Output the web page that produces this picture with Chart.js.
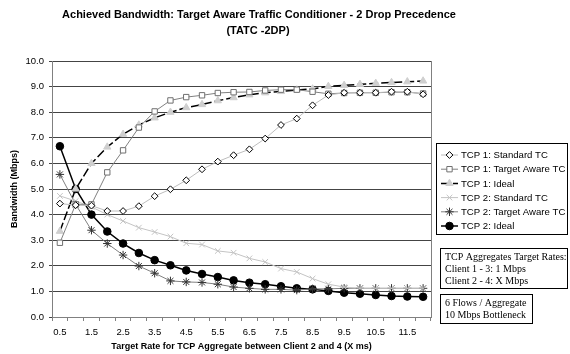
<!DOCTYPE html>
<html>
<head>
<meta charset="utf-8">
<script src="https://cdn.jsdelivr.net/npm/chart.js@4.4.1/dist/chart.umd.min.js"></script>
<style>
  html, body { margin: 0; padding: 0; background: #fff; }
  #wrap { width: 570px; height: 354px; position: relative; }
</style>
</head>
<body>
<div id="wrap"><canvas id="bwChart" width="570" height="354"></canvas></div>
<script>
// --- data ---
const categories = ["0.5","1.0","1.5","2.0","2.5","3.0","3.5","4.0","4.5","5.0","5.5","6.0",
                    "6.5","7.0","7.5","8.0","8.5","9.0","9.5","10.0","10.5","11.0","11.5","12.0"];

const tcp1Standard = [4.43,4.37,4.35,4.14,4.14,4.33,4.72,4.99,5.34,5.77,6.07,6.32,
                      6.55,6.97,7.5,7.75,8.27,8.67,8.76,8.76,8.76,8.8,8.8,8.7];
const tcp1Aware    = [2.9,4.4,4.4,5.65,6.51,7.4,8.03,8.46,8.59,8.66,8.75,8.78,
                      8.79,8.85,8.88,8.88,8.8,8.72,8.75,8.76,8.76,8.78,8.78,8.73];
const tcp1Ideal    = [3.35,5.0,6.0,6.64,7.14,7.5,7.78,8.0,8.18,8.3,8.45,8.57,
                      8.68,8.76,8.81,8.87,8.91,9.01,9.05,9.09,9.13,9.16,9.19,9.22];
const tcp2Standard = [4.73,4.53,4.3,4.0,3.75,3.49,3.32,3.14,2.88,2.83,2.58,2.51,
                      2.29,2.15,1.89,1.76,1.5,1.28,1.17,1.12,1.12,1.12,1.12,1.12];
const tcp2Aware    = [5.57,4.4,3.39,2.87,2.42,1.99,1.71,1.41,1.37,1.35,1.28,1.17,
                      1.12,1.08,1.08,1.05,1.1,1.1,1.12,1.12,1.12,1.12,1.12,1.12];
const tcp2Ideal    = [6.67,5.0,4.0,3.34,2.87,2.5,2.22,2.02,1.82,1.68,1.56,1.43,
                      1.34,1.28,1.2,1.12,1.08,1.02,0.95,0.91,0.86,0.82,0.8,0.79];

const yMin = 0, yMax = 10, yStep = 1;

const titleLines = ["Achieved Bandwidth: Target Aware Traffic Conditioner - 2 Drop Precedence", "(TATC -2DP)"];
const noteLines1 = ["TCP Aggregates Target Rates:", "Client 1 - 3: 1 Mbps", "Client 2 - 4: X Mbps"];
const noteLines2 = ["6 Flows / Aggregate", "10 Mbps Bottleneck"];

const SANS = "'Liberation Sans', Arial, sans-serif";
const SERIF = "'Liberation Serif', 'Times New Roman', serif";

/**
 * Title, legend and note boxes drawn on the canvas
 */
const decorPlugin = {
    id: "decor",
    afterDraw(chart) {
        const ctx = chart.ctx;
        const area = chart.chartArea;
        ctx.save();

        // right border of the plot
        ctx.strokeStyle = "#808080";
        ctx.lineWidth = 1;
        ctx.beginPath();
        ctx.moveTo(Math.round(area.right) + 0.5, area.top);
        ctx.lineTo(Math.round(area.right) + 0.5, area.bottom);
        ctx.stroke();

        // title
        ctx.fillStyle = "#000";
        ctx.font = `bold 11px ${SANS}`;
        ctx.textAlign = "center";
        ctx.textBaseline = "middle";
        ctx.fillText(titleLines[0], 259, 15);
        ctx.fillText(titleLines[1], 258, 31);

        // legend
        const lx = 436.5, ly = 143.5, lw = 131, lh = 91;
        ctx.strokeStyle = "#000";
        ctx.strokeRect(lx, ly, lw, lh);
        ctx.font = `9.6px ${SANS}`;
        ctx.textAlign = "left";
        chart.data.datasets.forEach((ds, i) => {
            const y = 155 + i * 14.2;
            ctx.save();
            ctx.strokeStyle = ds.borderColor;
            ctx.lineWidth = ds.borderWidth;
            ctx.setLineDash(ds.borderDash || []);
            ctx.beginPath();
            ctx.moveTo(441, y);
            ctx.lineTo(458, y);
            ctx.stroke();
            ctx.setLineDash([]);
            ctx.fillStyle = ds.pointBackgroundColor;
            ctx.strokeStyle = ds.pointBorderColor;
            ctx.lineWidth = ds.pointBorderWidth;
            Chart.helpers.drawPoint(ctx, {
                pointStyle: ds.pointStyle,
                radius: ds.pointRadius,
                borderWidth: ds.pointBorderWidth,
                rotation: 0
            }, 449.5, y);
            ctx.restore();
            ctx.fillStyle = "#000";
            ctx.fillText(ds.label, 461, y + 0.5);
        });

        // note boxes
        ctx.strokeStyle = "#000";
        ctx.strokeRect(440.5, 248.5, 127, 40);
        ctx.strokeRect(440.5, 294.5, 92, 29);
        ctx.font = `10px ${SERIF}`;
        noteLines1.forEach((t, i) => ctx.fillText(t, 445, 257 + i * 12));
        noteLines2.forEach((t, i) => ctx.fillText(t, 445, 303 + i * 12.5));

        ctx.restore();
    }
};

function makeSet(label, data, o) {
    return Object.assign({
        label,
        data,
        fill: false,
        tension: 0,
        borderWidth: 1,
        pointBorderWidth: 1,
        pointHoverRadius: 4
    }, o);
}

const datasets = [
    makeSet("TCP 1: Standard TC", tcp1Standard, {
        borderColor: "#bdbdbd", pointStyle: "rectRot", pointRadius: 3.4,
        pointBackgroundColor: "#fff", pointBorderColor: "#000"
    }),
    makeSet("TCP 1: Target Aware TC", tcp1Aware, {
        borderColor: "#808080", pointStyle: "rect", pointRadius: 3.8,
        pointBackgroundColor: "#fff", pointBorderColor: "#707070"
    }),
    makeSet("TCP 1: Ideal", tcp1Ideal, {
        borderColor: "#000", borderWidth: 1.5, borderDash: [9, 3], pointStyle: "triangle", pointRadius: 4.2,
        pointBackgroundColor: "#cfcfcf", pointBorderColor: "#cfcfcf"
    }),
    makeSet("TCP 2: Standard TC", tcp2Standard, {
        borderColor: "#c4c4c4", pointStyle: "crossRot", pointRadius: 4,
        pointBackgroundColor: "#c4c4c4", pointBorderColor: "#c4c4c4"
    }),
    makeSet("TCP 2: Target Aware TC", tcp2Aware, {
        borderColor: "#808080", pointStyle: "star", pointRadius: 4.2,
        pointBackgroundColor: "#333", pointBorderColor: "#333"
    }),
    makeSet("TCP 2: Ideal", tcp2Ideal, {
        borderColor: "#000", borderWidth: 1.5, pointStyle: "circle", pointRadius: 3.8,
        pointBackgroundColor: "#000", pointBorderColor: "#000"
    })
];

new Chart(document.getElementById("bwChart"), {
    type: "line",
    data: { labels: categories, datasets },
    plugins: [decorPlugin],
    options: {
        responsive: false,
        animation: false,
        layout: { padding: { left: 0, right: 139, top: 61, bottom: 0 } },
        plugins: { legend: { display: false }, title: { display: false }, tooltip: { enabled: false } },
        scales: {
            x: {
                type: "category",
                offset: true,
                grid: { display: true, drawOnChartArea: false, offset: true, color: "#808080", tickLength: 4 },
                border: { color: "#808080", width: 1 },
                ticks: {
                    autoSkip: false, maxRotation: 0, minRotation: 0, padding: 6,
                    color: "#000", font: { family: SANS, size: 9.5 },
                    callback: function (val, idx) { return idx % 2 === 0 ? this.getLabelForValue(val) : ""; }
                },
                title: {
                    display: true,
                    text: "Target Rate for TCP Aggregate between Client 2 and 4 (X ms)",
                    color: "#000", font: { family: SANS, size: 9, weight: "bold" },
                    padding: { top: 2, bottom: 2 }
                },
                afterFit(scale) { scale.height = 37; }
            },
            y: {
                min: yMin, max: yMax,
                ticks: {
                    stepSize: yStep, padding: 5, color: "#000", font: { family: SANS, size: 9.5 },
                    callback: v => Number(v).toFixed(1)
                },
                grid: { color: "#444", tickLength: 3 },
                border: { color: "#808080", width: 1 },
                title: {
                    display: true, text: "Bandwidth (Mbps)",
                    color: "#000", font: { family: SANS, size: 9, weight: "bold" },
                    padding: { top: 9, bottom: 4 }
                },
                afterFit(scale) { scale.width = 52; }
            }
        }
    }
});
</script>
</body>
</html>
